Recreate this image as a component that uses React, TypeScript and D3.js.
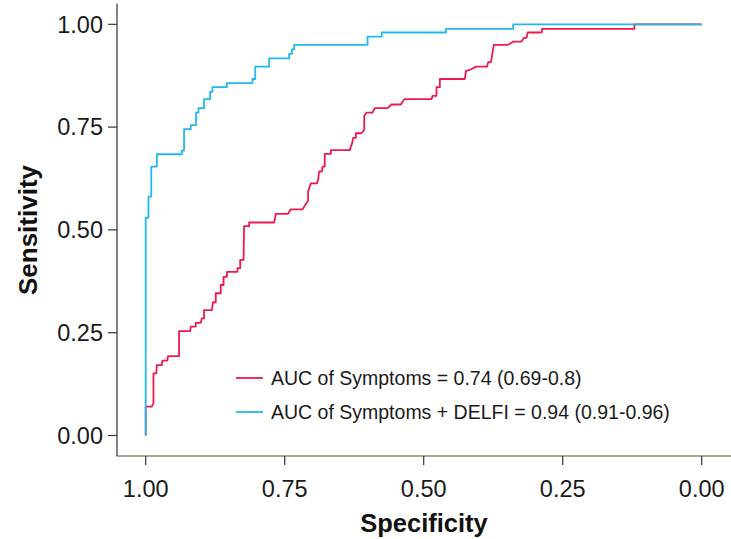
import React from "react";
import * as d3 from "d3";

// ROC curve for "Symptoms" (specificity, sensitivity vertices)
const symptomsSpec = [1.0, 1.0, 0.989, 0.986, 0.986, 0.981, 0.98, 0.971, 0.97, 0.961, 0.96, 0.94, 0.94, 0.92, 0.919, 0.91, 0.91, 0.901, 0.899, 0.895, 0.895, 0.881, 0.879, 0.874, 0.874, 0.865, 0.865, 0.86, 0.86, 0.854, 0.854, 0.835, 0.835, 0.83, 0.83, 0.824, 0.823, 0.814, 0.814, 0.769, 0.766, 0.744, 0.739, 0.718, 0.708, 0.708, 0.703, 0.692, 0.69, 0.688, 0.683, 0.682, 0.678, 0.678, 0.667, 0.667, 0.633, 0.628, 0.627, 0.622, 0.622, 0.612, 0.607, 0.607, 0.603, 0.592, 0.588, 0.565, 0.558, 0.541, 0.535, 0.486, 0.484, 0.477, 0.477, 0.471, 0.471, 0.426, 0.424, 0.417, 0.406, 0.386, 0.384, 0.379, 0.374, 0.348, 0.339, 0.324, 0.32, 0.315, 0.313, 0.288, 0.287, 0.121, 0.121, 0.0];
const symptomsSens = [0.0, 0.07, 0.07, 0.078, 0.151, 0.151, 0.171, 0.171, 0.182, 0.182, 0.193, 0.193, 0.254, 0.254, 0.265, 0.265, 0.274, 0.274, 0.285, 0.285, 0.305, 0.305, 0.324, 0.324, 0.346, 0.346, 0.366, 0.366, 0.386, 0.386, 0.398, 0.398, 0.407, 0.407, 0.427, 0.427, 0.509, 0.509, 0.518, 0.518, 0.539, 0.539, 0.55, 0.55, 0.571, 0.593, 0.613, 0.613, 0.621, 0.642, 0.642, 0.654, 0.654, 0.685, 0.685, 0.694, 0.694, 0.714, 0.724, 0.724, 0.735, 0.735, 0.743, 0.777, 0.785, 0.785, 0.796, 0.796, 0.805, 0.805, 0.818, 0.818, 0.826, 0.826, 0.847, 0.847, 0.867, 0.867, 0.887, 0.889, 0.897, 0.897, 0.908, 0.908, 0.95, 0.95, 0.958, 0.958, 0.967, 0.967, 0.98, 0.98, 0.989, 0.989, 1.0, 1.0];

// ROC curve for "Symptoms + DELFI"
const delfiSpec = [1.0, 1.0, 0.995, 0.995, 0.99, 0.99, 0.98, 0.98, 0.935, 0.935, 0.931, 0.931, 0.919, 0.919, 0.9095, 0.9095, 0.905, 0.905, 0.895, 0.895, 0.884, 0.884, 0.88, 0.88, 0.854, 0.854, 0.808, 0.808, 0.803, 0.803, 0.778, 0.778, 0.742, 0.742, 0.737, 0.737, 0.733, 0.733, 0.601, 0.601, 0.5755, 0.5755, 0.46, 0.46, 0.339, 0.339, 0.0];
const delfiSens = [0.0, 0.53, 0.53, 0.581, 0.581, 0.654, 0.654, 0.684, 0.684, 0.693, 0.693, 0.745, 0.745, 0.755, 0.755, 0.785, 0.785, 0.796, 0.796, 0.818, 0.818, 0.836, 0.836, 0.847, 0.847, 0.857, 0.857, 0.867, 0.867, 0.897, 0.897, 0.917, 0.917, 0.928, 0.928, 0.939, 0.939, 0.95, 0.95, 0.97, 0.97, 0.98, 0.98, 0.989, 0.989, 1.0, 1.0];

const tickValues = [1.0, 0.75, 0.5, 0.25, 0.0];
const tickLabels = ["1.00", "0.75", "0.50", "0.25", "0.00"];
const seriesLabels = [
  "AUC of Symptoms = 0.74 (0.69-0.8)",
  "AUC of Symptoms + DELFI = 0.94 (0.91-0.96)",
];
const seriesColors = ["#EE1A4F", "#22B8EE"];

const W = 731;
const H = 539;
const FONT = "'Liberation Sans', Arial, Helvetica, sans-serif";

export default function App() {
  const x = d3.scaleLinear().domain([1, 0]).range([145.7, 701.7]);
  const y = d3.scaleLinear().domain([0, 1]).range([435.5, 24.3]);
  const panelLeft = 117;
  const panelBottom = 456;
  const panelTop = 3.5;

  const line = d3
    .line<[number, number]>()
    .x((d) => x(d[0]))
    .y((d) => y(d[1]));

  const red: [number, number][] = symptomsSpec.map((s, i) => [s, symptomsSens[i]]);
  const blue: [number, number][] = delfiSpec.map((s, i) => [s, delfiSens[i]]);

  return (
    <svg
      width={W}
      height={H}
      style={{ position: "absolute", left: 0, top: 0, background: "#fff" }}
      fontFamily={FONT}
    >
      <rect x={0} y={0} width={W} height={H} fill="#fff" />
      {/* curves */}
      <path d={line(red) || ""} fill="none" stroke={seriesColors[0]} strokeWidth={1.8} strokeLinejoin="round" />
      <path d={line(blue) || ""} fill="none" stroke={seriesColors[1]} strokeWidth={1.8} strokeLinejoin="round" />

      {/* axes */}
      <line x1={panelLeft} x2={panelLeft} y1={panelTop} y2={panelBottom} stroke="#333" strokeWidth={1.2} />
      <line x1={panelLeft - 0.6} x2={W} y1={panelBottom} y2={panelBottom} stroke="#4d4d35" strokeWidth={1.2} />

      {tickValues.map((v, i) => (
        <g key={"y" + i}>
          <line x1={panelLeft - 9} x2={panelLeft} y1={y(v)} y2={y(v)} stroke="#333" strokeWidth={1.2} />
          <text x={103} y={y(v)} dy="0.35em" textAnchor="end" fontSize={23.5} fill="#1a1a1a">
            {tickLabels[i]}
          </text>
        </g>
      ))}
      {tickValues.map((v, i) => (
        <g key={"x" + i}>
          <line x1={x(v)} x2={x(v)} y1={panelBottom} y2={panelBottom + 9} stroke="#333" strokeWidth={1.2} />
          <text x={x(v)} y={497} textAnchor="middle" fontSize={23.5} fill="#1a1a1a">
            {tickLabels[i]}
          </text>
        </g>
      ))}

      {/* axis titles */}
      <text x={424} y={532} textAnchor="middle" fontSize={25.5} fontWeight="bold" fill="#111">
        Specificity
      </text>
      <text
        transform={`translate(37,230) rotate(-90)`}
        textAnchor="middle"
        fontSize={26}
        fontWeight="bold"
        fill="#111"
      >
        Sensitivity
      </text>

      {/* legend */}
      {seriesLabels.map((lab, i) => (
        <g key={"l" + i} transform={`translate(0, ${378 + i * 34})`}>
          <line x1={236} x2={263} y1={0} y2={0} stroke={seriesColors[i]} strokeWidth={1.8} />
          <text x={271} y={0} dy="0.35em" fontSize={19.5} fill="#1a1a1a">
            {lab}
          </text>
        </g>
      ))}
    </svg>
  );
}
